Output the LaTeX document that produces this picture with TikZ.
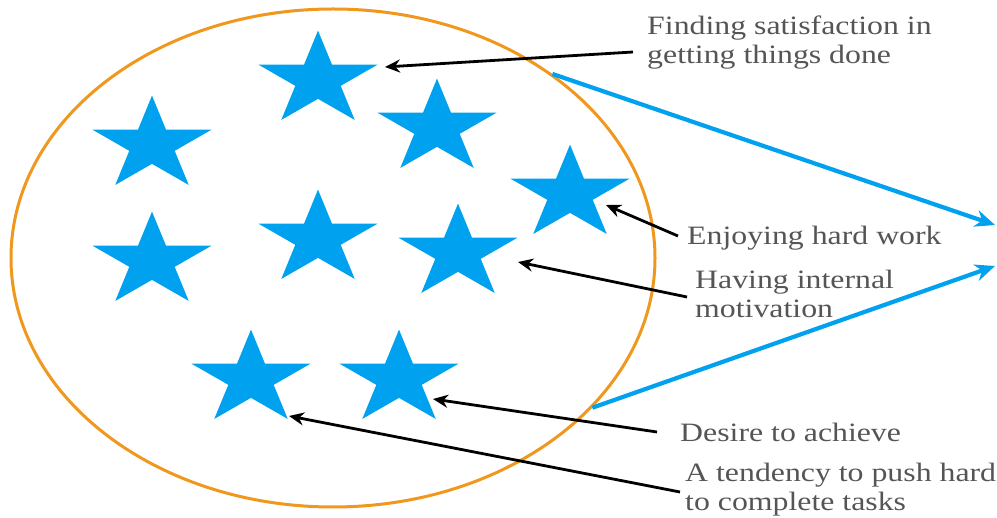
\documentclass[tikz,border=0pt]{standalone}
\usepackage{fontspec}
\usepackage{tikz}
\usetikzlibrary{arrows.meta,shapes.geometric,calc}
\newfontfamily\lblfont{Liberation Serif}
\definecolor{starblue}{RGB}{0,162,240}
\definecolor{ringorange}{RGB}{240,152,30}
\definecolor{lblgray}{RGB}{85,85,85}

\begin{document}
\begin{tikzpicture}[
    x=1pt,y=-1pt,
    starnode/.style={star,star points=5,star point ratio=2.618,
                     minimum size=125pt,inner sep=0pt,fill=starblue,
                     yscale=0.79,transform shape},
    lbl/.style={font=\lblfont\fontsize{26.5}{29.5}\selectfont,
                text=lblgray,align=left,inner sep=0pt,anchor=base west,
                xscale=1.2,transform shape},
    arr/.style={-{Stealth[length=15pt,width=13pt]},line width=2.8pt,black},
    bluearr/.style={-{Stealth[length=20pt,width=17pt]},line width=4.2pt,starblue},
  ]
    \useasboundingbox[fill=white](0,0) rectangle (997,518);
    % the ring
    \node[draw=ringorange,line width=3pt,ellipse,inner sep=0pt,
          minimum width=644pt,minimum height=498pt](group) at (333,258){};
    % stars
    \node[starnode](s1) at (318,80){};
    \node[starnode](s2) at (152,145){};
    \node[starnode](s3) at (437,128){};
    \node[starnode](s4) at (570,194){};
    \node[starnode](s5) at (152,261){};
    \node[starnode](s6) at (318,239){};
    \node[starnode](s7) at (458,253){};
    \node[starnode](s8) at (251,379){};
    \node[starnode](s9) at (399,379){};
    % labels (base = last line)
    \node[lbl](t1) at (647,64){Finding satisfaction in\\getting things done};
    \node[lbl](t2) at (687,245){Enjoying hard work};
    \node[lbl](t3) at (695,318){Having internal\\motivation};
    \node[lbl](t4) at (680,442){Desire to achieve};
    \node[lbl](t5) at (685,511){A tendency to push hard\\to complete tasks};
    \draw[arr]([shift={(-14,-12)}]t1.base west)--([shift={(67,-13)}]s1.center);
    \draw[arr]([shift={(-9,-9)}]t2.base west)--([shift={(36,11)}]s4.center);
    \draw[arr]([shift={(-8,-21)}]t3.base west)--([shift={(60,9)}]s7.center);
    \draw[arr]([shift={(-23,-10)}]t4.base west)--([shift={(34,20)}]s9.center);
    \draw[arr]([shift={(-5,-19)}]t5.base west)--([shift={(38,37)}]s8.center);
    % blue pointers out of the ring
    \coordinate(e1) at (995,225);
    \coordinate(e2) at (995,266);
    \draw[bluearr](group.40)--(e1);
    \draw[bluearr](group.-30)--(e2);
  \end{tikzpicture}
\end{document}
